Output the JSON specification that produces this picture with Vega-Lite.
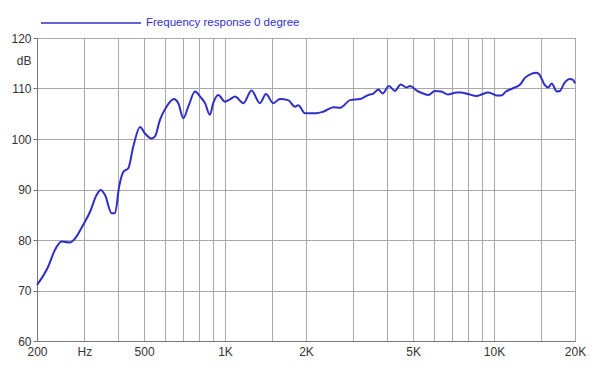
{
  "$schema": "https://vega.github.io/schema/vega-lite/v6.json",
  "autosize": "none",
  "width": 538,
  "height": 303,
  "padding": {"left": 37, "top": 38, "right": 25, "bottom": 35},
  "background": "white",
  "config": {"view": {"stroke": "#888888", "strokeWidth": 1}, "font": "Liberation Sans"},
  "data": {"values": [
    {"f": 200, "db": 71.1}, {"f": 220, "db": 74.7}, {"f": 233, "db": 78}, {"f": 247, "db": 79.7},
    {"f": 265, "db": 79.5}, {"f": 277, "db": 80.3}, {"f": 297, "db": 83}, {"f": 315, "db": 85.6},
    {"f": 333, "db": 88.9}, {"f": 345, "db": 89.9}, {"f": 358, "db": 88.9}, {"f": 379, "db": 85.3},
    {"f": 390, "db": 85.3}, {"f": 404, "db": 90.6}, {"f": 419, "db": 93.5}, {"f": 437, "db": 94.2},
    {"f": 456, "db": 98.5}, {"f": 483, "db": 102.4}, {"f": 504, "db": 101.1}, {"f": 534, "db": 100.1},
    {"f": 549, "db": 100.5}, {"f": 573, "db": 103.8}, {"f": 606, "db": 106.4}, {"f": 646, "db": 107.9},
    {"f": 670, "db": 107.1}, {"f": 700, "db": 104.1}, {"f": 730, "db": 106.4}, {"f": 774, "db": 109.4},
    {"f": 808, "db": 108.4}, {"f": 843, "db": 107.1}, {"f": 878, "db": 104.8}, {"f": 904, "db": 107.1},
    {"f": 944, "db": 108.7}, {"f": 1000, "db": 107.4}, {"f": 1045, "db": 107.9}, {"f": 1090, "db": 108.4},
    {"f": 1170, "db": 107.1}, {"f": 1254, "db": 109.6}, {"f": 1348, "db": 107.1}, {"f": 1420, "db": 108.9},
    {"f": 1510, "db": 107.1}, {"f": 1600, "db": 107.9}, {"f": 1716, "db": 107.7}, {"f": 1820, "db": 106.4},
    {"f": 1873, "db": 106.7}, {"f": 1983, "db": 105.1}, {"f": 2180, "db": 105.1}, {"f": 2316, "db": 105.4},
    {"f": 2530, "db": 106.3}, {"f": 2680, "db": 106.2}, {"f": 2920, "db": 107.7}, {"f": 3180, "db": 107.9},
    {"f": 3400, "db": 108.7}, {"f": 3560, "db": 109.0}, {"f": 3720, "db": 109.8}, {"f": 3850, "db": 109.0},
    {"f": 4070, "db": 110.5}, {"f": 4280, "db": 109.5}, {"f": 4500, "db": 110.8}, {"f": 4730, "db": 110.2},
    {"f": 4870, "db": 110.5}, {"f": 5160, "db": 109.6}, {"f": 5460, "db": 109.0}, {"f": 5700, "db": 108.7},
    {"f": 6030, "db": 109.5}, {"f": 6370, "db": 109.4}, {"f": 6740, "db": 108.8}, {"f": 7250, "db": 109.2},
    {"f": 7550, "db": 109.2}, {"f": 8000, "db": 108.9}, {"f": 8620, "db": 108.5}, {"f": 8980, "db": 108.8},
    {"f": 9490, "db": 109.2}, {"f": 9910, "db": 108.9}, {"f": 10200, "db": 108.6}, {"f": 10630, "db": 108.6},
    {"f": 11080, "db": 109.4}, {"f": 11710, "db": 110.0}, {"f": 12510, "db": 110.8}, {"f": 13030, "db": 112.1},
    {"f": 13760, "db": 112.9}, {"f": 14370, "db": 113.1}, {"f": 14780, "db": 112.7}, {"f": 15420, "db": 110.7},
    {"f": 15900, "db": 110.2}, {"f": 16380, "db": 111.0}, {"f": 17120, "db": 109.4}, {"f": 17550, "db": 109.5},
    {"f": 18330, "db": 111.2}, {"f": 19090, "db": 111.9}, {"f": 19670, "db": 111.7}, {"f": 20000, "db": 111.0}
  ]},
  "mark": {"type": "line", "interpolate": "monotone", "strokeWidth": 2},
  "encoding": {
    "x": {
      "field": "f", "type": "quantitative",
      "scale": {"type": "log", "domain": [200, 20000], "nice": false},
      "axis": {
        "title": null,
        "values": [200, 300, 400, 500, 600, 700, 800, 900, 1000, 1500, 2000, 3000, 4000, 5000, 6000, 7000, 8000, 9000, 10000, 15000, 20000],
        "labelExpr": "datum.value==200?'200':datum.value==300?'Hz':datum.value==500?'500':datum.value==1000?'1K':datum.value==2000?'2K':datum.value==5000?'5K':datum.value==10000?'10K':datum.value==20000?'20K':''",
        "grid": true, "gridColor": "#a8a8a8", "gridWidth": 1,
        "tickSize": 0, "labelPadding": 5, "labelFontSize": 12, "labelColor": "#333333",
        "domainColor": "#777777", "labelOverlap": false, "labelFlush": false
      }
    },
    "y": {
      "field": "db", "type": "quantitative",
      "scale": {"domain": [60, 120], "nice": false},
      "axis": {
        "title": null,
        "values": [60, 70, 80, 90, 100, 110, 115.5, 120],
        "labelExpr": "datum.value==115.5?'dB':datum.label",
        "grid": true,
        "gridColor": {"condition": {"test": "datum.value==115.5", "value": "transparent"}, "value": "#a8a8a8"},
        "tickColor": {"condition": {"test": "datum.value==115.5", "value": "transparent"}, "value": "#777777"},
        "tickSize": 4, "labelPadding": 2, "labelFontSize": 12, "labelColor": "#333333",
        "domainColor": "#777777", "labelOverlap": false, "labelFlush": false
      }
    },
    "color": {
      "datum": "Frequency response 0 degree",
      "scale": {"range": ["#2f2fc8"]},
      "legend": {
        "orient": "none", "legendX": 3, "legendY": -66, "title": null,
        "symbolType": "stroke", "symbolSize": 10000, "symbolStrokeWidth": 1.5,
        "labelFontSize": 11.5, "labelColor": "#2f2fc8", "labelOffset": 4, "labelLimit": 400
      }
    }
  }
}
